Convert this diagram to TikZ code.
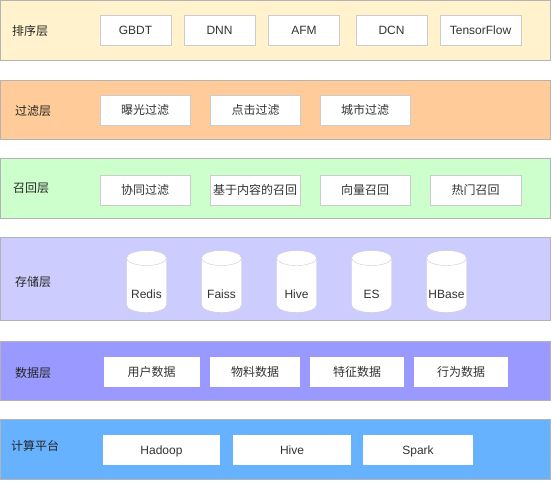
\documentclass[tikz,border=0pt]{standalone}
\usepackage{fontspec}
\setmainfont{Liberation Sans}
\newfontfamily\cjk{Noto Sans CJK SC}
\definecolor{sortc}{HTML}{FFF2CC}
\definecolor{filterc}{HTML}{FFCC99}
\definecolor{recallc}{HTML}{CCFFCC}
\definecolor{storec}{HTML}{CCCCFF}
\definecolor{datac}{HTML}{9999FF}
\definecolor{compc}{HTML}{66B2FF}
\definecolor{edgec}{HTML}{B3B3B3}
\definecolor{txtc}{HTML}{333333}
\begin{document}
\begin{tikzpicture}[x=1pt,y=-1pt,font=\fontsize{12}{14}\selectfont,
  band/.style={draw=edgec,line width=0.8pt},
  cn/.style={font=\fontsize{12}{14}\selectfont\cjk},
  tag/.style={cn,anchor=west,inner sep=0pt,text=black!85},
  box/.style={draw=black!20,fill=white,minimum height=30pt,inner sep=0pt,
    text height=10.5pt,text depth=2pt,text=txtc},
  flat/.style={box,draw=none},
  cyl/.style={draw=black!20,fill=white}]
\useasboundingbox (0,0) rectangle (551,480);
% layers
\draw[band,fill=sortc] (0.5,0.5) rectangle (550,60);
\draw[band,fill=filterc] (0.5,80) rectangle (550,139);
\draw[band,fill=recallc] (0.5,158) rectangle (550,218);
\draw[band,fill=storec] (0.5,237) rectangle (550,320);
\draw[band,fill=datac] (0.5,341) rectangle (550,400);
\draw[band,fill=compc] (0.5,419) rectangle (550,479.5);
\node[tag] (sortlbl) at (12,30.5) {排序层};
\node[tag] (filterlbl) at (15,110.5) {过滤层};
\node[tag] (recalllbl) at (13,188.5) {召回层};
\node[tag] (storelbl) at (15,281.5) {存储层};
\node[tag] (datalbl) at (15,372.5) {数据层};
\node[tag] (complbl) at (11,446) {计算平台};
% sort
\node[box,minimum width=71pt] (gbdt) at (135.5,30) {GBDT};
\node[box,minimum width=71pt] (dnn) at (219.5,30) {DNN};
\node[box,minimum width=71pt] (afm) at (304,30) {AFM};
\node[box,minimum width=71pt] (dcn) at (391.5,30) {DCN};
\node[box,minimum width=81pt] (tf) at (480.5,30) {TensorFlow};
% filter
\node[box,cn,minimum width=90pt] (expo) at (145,110.5) {曝光过滤};
\node[box,cn,minimum width=90pt] (click) at (255.5,110.5) {点击过滤};
\node[box,cn,minimum width=90pt] (city) at (365,110.5) {城市过滤};
% recall
\node[box,cn,minimum width=90pt] (cf) at (145,190) {协同过滤};
\node[box,cn,minimum width=90pt] (content) at (255,190) {基于内容的召回};
\node[box,cn,minimum width=90pt] (vec) at (365,190) {向量召回};
\node[box,cn,minimum width=91pt] (hot) at (475.5,190) {热门召回};
% storage
\foreach \x/\t/\n in {146.5/Redis/redis,221.5/Faiss/faiss,296.5/Hive/hivedb,371.5/ES/es,446.5/HBase/hbase}{
  \draw[cyl] (\x-20,258) arc[start angle=180,end angle=360,x radius=20,y radius=7.5]
    -- (\x+20,305) arc[start angle=0,end angle=180,x radius=20,y radius=7.5] -- cycle;
  \draw[cyl] (\x-20,258) arc[start angle=180,end angle=0,x radius=20,y radius=7.5];
  \node[inner sep=0pt,text=txtc] (\n) at (\x,294) {\t};
}
% data
\node[flat,cn,minimum width=96pt] (user) at (151.5,372) {用户数据};
\node[flat,cn,minimum width=90pt] (item) at (255,372) {物料数据};
\node[flat,cn,minimum width=94pt] (feat) at (357,372) {特征数据};
\node[flat,cn,minimum width=94pt] (act) at (461,372) {行为数据};
% compute
\node[flat,minimum width=117pt] (hadoop) at (161.5,450) {Hadoop};
\node[flat,minimum width=118pt] (hive) at (292,450) {Hive};
\node[flat,minimum width=110pt] (spark) at (418,450) {Spark};
\end{tikzpicture}
\end{document}
